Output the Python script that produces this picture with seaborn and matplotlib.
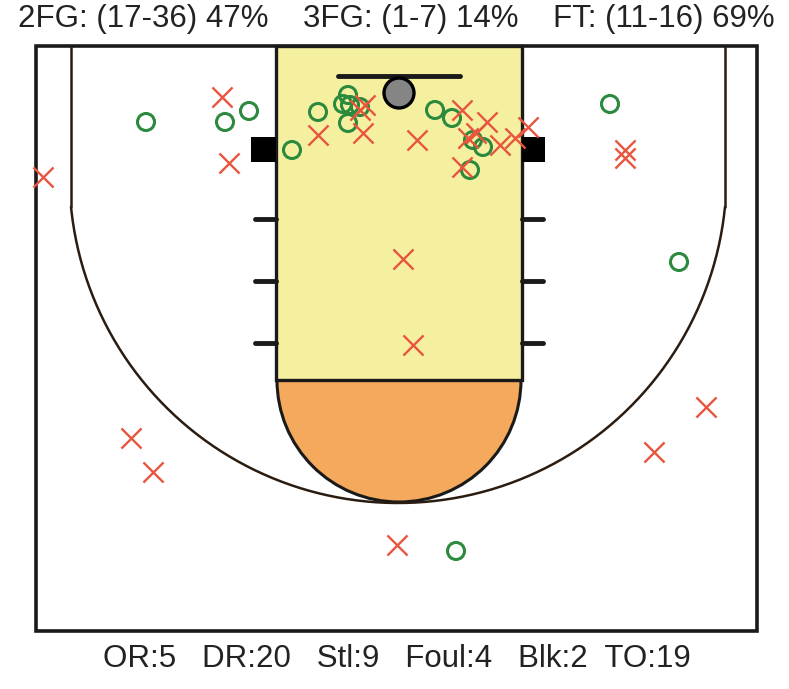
import matplotlib
matplotlib.use("Agg")
import matplotlib.pyplot as plt
import matplotlib.patches as mpatches
import numpy as np
import pandas as pd
import seaborn as sns

# ------------------------------------------------------------
# data: shot locations in court pixels (x right, y down from baseline)
# ------------------------------------------------------------
made_x = [146, 225, 249, 292, 318, 348, 350, 360, 348, 343,
          435, 452, 473, 483, 470, 610, 679, 456]
made_y = [122, 122, 111, 150, 112, 95, 105, 107, 123, 104,
          110, 118, 140, 147, 170, 104, 262, 551]

miss_x = [43, 222, 229, 318, 360, 365, 363, 417, 462, 487,
          468, 476, 500, 515, 528, 462, 625, 625, 403, 413,
          131, 153, 706, 654, 397]
miss_y = [177, 97, 163, 135, 110, 105, 133, 140, 110, 122,
          138, 133, 145, 138, 127, 167, 150, 158, 259, 345,
          438, 472, 407, 452, 545]

title_parts = ["2FG: (17-36) 47%", "3FG: (1-7) 14%", "FT: (11-16) 69%"]
stat_labels = ["OR", "DR", "Stl", "Foul", "Blk", "TO"]
stat_values = [5, 20, 9, 4, 2, 19]

RED = "#E8553F"
GREEN = "#2B8A3E"
KEY_FILL = "#F5F0A0"
FT_FILL = "#F5A95C"
LINE = "#1a1a1a"

made = pd.DataFrame({"x": made_x, "y": made_y})
miss = pd.DataFrame({"x": miss_x, "y": miss_y})

sns.set_theme(style="white")
plt.rcParams["font.family"] = ["Liberation Sans", "DejaVu Sans"]

fig = plt.figure(figsize=(7.89, 6.89), dpi=100)
ax = fig.add_axes([0, 0, 1, 1])
ax.set_xlim(0, 789)
ax.set_ylim(689, 0)
ax.axis("off")

# ---- court ----
ax.add_patch(mpatches.Rectangle((36, 46), 721, 585, fill=False,
                                ec=LINE, lw=2.6, zorder=2))
# free throw circle (lower half filled)
ax.add_patch(mpatches.Wedge((399, 380), 122, 0, 180, fc=FT_FILL,
                            ec=LINE, lw=2.2, zorder=1))
# lane
ax.add_patch(mpatches.Rectangle((276, 46), 246, 334, fc=KEY_FILL,
                                ec=LINE, lw=2.4, zorder=1))

# three point line
arc_c, arc_r = (398, 174.4), 328.6
t = np.linspace(np.arccos(327 / arc_r), np.pi - np.arccos(327 / arc_r), 200)
ax.plot(arc_c[0] + arc_r * np.cos(t), arc_c[1] + arc_r * np.sin(t),
        color="#2a1c10", lw=1.8, zorder=2)
ax.plot([71, 71], [46, 207], color="#2a1c10", lw=1.8, zorder=2)
ax.plot([725, 725], [46, 207], color="#2a1c10", lw=1.8, zorder=2)

# blocks and hash marks
ax.add_patch(mpatches.Rectangle((251, 137), 25, 25, fc="black", ec="none", zorder=2))
ax.add_patch(mpatches.Rectangle((522, 137), 23, 25, fc="black", ec="none", zorder=2))
for hy in [219, 281, 343]:
    ax.plot([255, 276], [hy, hy], color=LINE, lw=3.5, zorder=2)
    ax.plot([522, 543], [hy, hy], color=LINE, lw=3.5, zorder=2)

# backboard and rim
ax.plot([338, 460], [76, 76], color=LINE, lw=3.5, zorder=3)
ax.add_patch(mpatches.Circle((399, 93), 15, fc="#858585", ec="black",
                             lw=2.4, zorder=3))

# ---- shots ----
sns.scatterplot(data=made, x="x", y="y", ax=ax, marker="o", s=150,
                facecolor="none", edgecolor=GREEN, linewidth=2.2, zorder=5)
sns.scatterplot(data=miss, x="x", y="y", ax=ax, marker="x", s=210,
                color=RED, linewidth=1.7, zorder=6)

ax.set_xlim(0, 789)
ax.set_ylim(689, 0)

# ---- texts ----
ax.text(396, 19, "    ".join(title_parts), ha="center", va="center",
        fontsize=22.5, color="#222222")
stat_items = [f"{lab}:{val}" for lab, val in zip(stat_labels, stat_values)]
stats = "   ".join(stat_items[:-1]) + "  " + stat_items[-1]
ax.text(397, 659, stats, ha="center", va="center", fontsize=22.5, color="#222222")

fig.savefig("out.png", dpi=100)
